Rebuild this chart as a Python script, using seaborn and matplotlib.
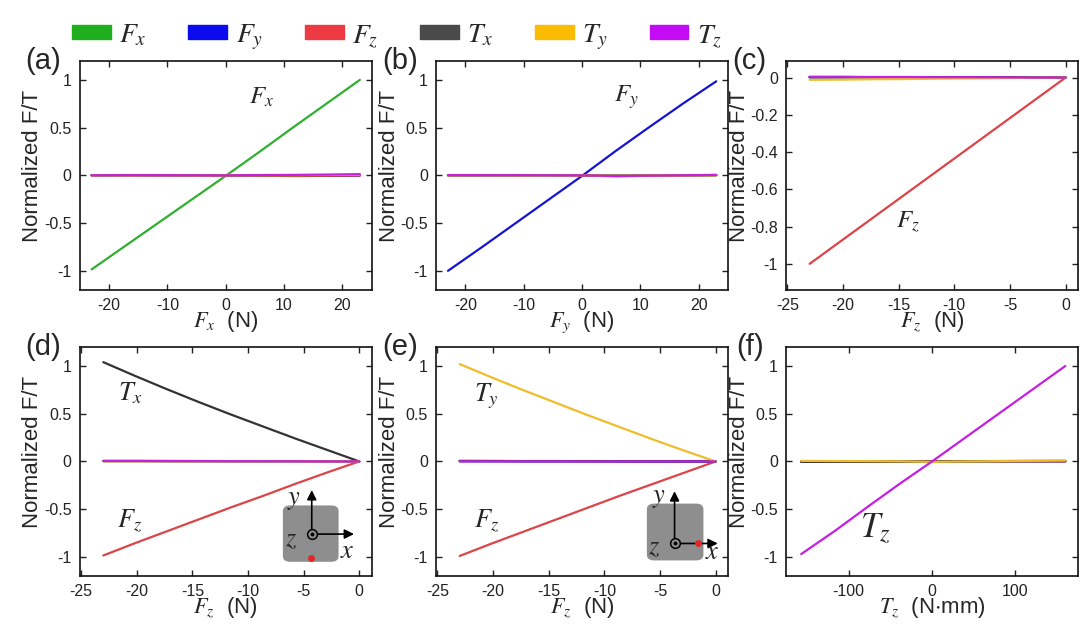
import matplotlib.pyplot as plt
import matplotlib.patches as mpatches
from matplotlib.patches import FancyBboxPatch
from matplotlib.ticker import FuncFormatter
import pandas as pd
import seaborn as sns

sns.set_style('ticks')
plt.rcParams['font.family'] = ['Liberation Sans', 'DejaVu Sans']
plt.rcParams['mathtext.fontset'] = 'stix'
plt.rcParams['axes.unicode_minus'] = False

# composantes et couleurs
composantes = ['Fx', 'Fy', 'Fz', 'Tx', 'Ty', 'Tz']
noms = [r'$F_x$', r'$F_y$', r'$F_z$', r'$T_x$', r'$T_y$', r'$T_z$']
couleurs_legende = ['#1eae1e', '#0b0bee', '#ee3a42', '#4a4a4a', '#fbbb00', '#c30cf5']
couleurs_courbes = ['#2fb02f', '#1515d0', '#dc4448', '#333333', '#f0bd2a', '#c61ee2']

# (a) charge Fx
x_a = [-23, -17.25, -11.5, -5.75, 0, 5.75, 11.5, 17.25, 23]
a_Fx = [-0.985, -0.74, -0.495, -0.25, -0.005, 0.245, 0.5, 0.75, 1.0]
a_Fy = [0.002, 0.002, 0.001, 0.0, 0.0, -0.002, -0.003, -0.002, -0.001]
a_Fz = [0.0, 0.0, -0.001, -0.002, 0.0, -0.004, -0.007, -0.005, -0.002]
a_Tx = [0.0, 0.001, 0.002, 0.001, 0.0, 0.0, 0.001, 0.002, 0.003]
a_Ty = [0.0, 0.0, 0.001, 0.0, 0.0, 0.001, 0.002, 0.004, 0.006]
a_Tz = [0.001, 0.002, 0.002, 0.001, 0.0, 0.003, 0.005, 0.008, 0.012]

# (b) charge Fy
x_b = [-23, -17.25, -11.5, -5.75, 0, 5.75, 11.5, 17.25, 23]
b_Fx = [0.001, 0.001, 0.0, 0.0, 0.0, -0.003, 0.0, 0.001, 0.002]
b_Fy = [-1.0, -0.755, -0.505, -0.255, -0.005, 0.255, 0.505, 0.75, 0.985]
b_Fz = [0.002, 0.002, 0.001, 0.001, 0.0, -0.01, -0.004, -0.002, 0.004]
b_Tx = [0.0, 0.0, 0.001, 0.001, 0.0, -0.002, 0.0, 0.001, 0.001]
b_Ty = [0.001, 0.001, 0.0, 0.0, 0.0, -0.004, -0.002, 0.0, 0.002]
b_Tz = [0.003, 0.002, 0.002, 0.001, 0.0, -0.006, -0.003, 0.001, 0.005]

# (c) charge Fz au centre
x_c = [-23, -20.125, -17.25, -14.375, -11.5, -8.625, -5.75, -2.875, 0]
c_Fx = [0.002, 0.002, 0.002, 0.001, 0.001, 0.001, 0.0, 0.0, 0.0]
c_Fy = [0.001, 0.001, 0.001, 0.001, 0.0, 0.0, 0.0, 0.0, 0.0]
c_Fz = [-1.0, -0.875, -0.75, -0.625, -0.5, -0.375, -0.25, -0.125, 0.0]
c_Tx = [0.003, 0.003, 0.002, 0.002, 0.002, 0.001, 0.001, 0.0, 0.0]
c_Ty = [-0.012, -0.011, -0.009, -0.008, -0.006, -0.005, -0.003, -0.001, 0.0]
c_Tz = [0.004, 0.004, 0.003, 0.003, 0.002, 0.002, 0.001, 0.0, 0.0]

# (d) charge Fz excentree en y
x_d = [-23, -20.125, -17.25, -14.375, -11.5, -8.625, -5.75, -2.875, 0]
d_Fx = [0.002, 0.002, 0.001, 0.001, 0.001, 0.0, 0.0, 0.0, 0.0]
d_Fy = [0.006, 0.006, 0.005, 0.004, 0.003, 0.002, 0.002, 0.001, 0.0]
d_Fz = [-0.985, -0.855, -0.73, -0.605, -0.48, -0.36, -0.235, -0.115, 0.0]
d_Tx = [1.04, 0.895, 0.755, 0.62, 0.49, 0.365, 0.24, 0.12, 0.0]
d_Ty = [0.002, 0.002, 0.001, 0.001, 0.001, 0.0, 0.0, 0.0, 0.0]
d_Tz = [0.004, 0.004, 0.003, 0.003, 0.002, 0.002, 0.001, 0.0, 0.0]

# (e) charge Fz excentree en x
x_e = [-23, -20.125, -17.25, -14.375, -11.5, -8.625, -5.75, -2.875, 0]
e_Fx = [0.004, 0.004, 0.003, 0.003, 0.002, 0.002, 0.001, 0.0, 0.0]
e_Fy = [0.002, 0.002, 0.001, 0.001, 0.001, 0.0, 0.0, 0.0, 0.0]
e_Fz = [-0.99, -0.86, -0.735, -0.61, -0.485, -0.36, -0.24, -0.12, 0.0]
e_Tx = [0.006, 0.005, 0.004, 0.004, 0.003, 0.002, 0.001, 0.0, 0.0]
e_Ty = [1.02, 0.88, 0.745, 0.615, 0.485, 0.36, 0.235, 0.115, 0.0]
e_Tz = [0.001, 0.001, 0.001, 0.001, 0.0, 0.0, 0.0, 0.0, 0.0]

# (f) couple Tz
x_f = [-157, -117, -78, -39, 0, 40, 80, 120, 160]
f_Fx = [0.002, 0.001, 0.001, 0.0, 0.0, 0.0, 0.001, 0.001, 0.002]
f_Fy = [-0.002, -0.001, -0.001, 0.0, 0.0, 0.0, 0.001, 0.001, 0.001]
f_Fz = [0.0, 0.0, 0.0, 0.0, 0.0, 0.001, 0.001, 0.001, 0.001]
f_Tx = [-0.004, -0.003, -0.002, -0.001, 0.0, 0.002, 0.004, 0.005, 0.006]
f_Ty = [0.006, 0.004, 0.003, 0.001, -0.004, 0.0, 0.003, 0.006, 0.009]
f_Tz = [-0.97, -0.73, -0.48, -0.235, 0.0, 0.25, 0.5, 0.75, 1.0]

panneaux = [
    ('(a)', x_a, [a_Fx, a_Fy, a_Fz, a_Tx, a_Ty, a_Tz], r'$F_x$  (N)'),
    ('(b)', x_b, [b_Fx, b_Fy, b_Fz, b_Tx, b_Ty, b_Tz], r'$F_y$  (N)'),
    ('(c)', x_c, [c_Fx, c_Fy, c_Fz, c_Tx, c_Ty, c_Tz], r'$F_z$  (N)'),
    ('(d)', x_d, [d_Fx, d_Fy, d_Fz, d_Tx, d_Ty, d_Tz], r'$F_z$  (N)'),
    ('(e)', x_e, [e_Fx, e_Fy, e_Fz, e_Tx, e_Ty, e_Tz], r'$F_z$  (N)'),
    ('(f)', x_f, [f_Fx, f_Fy, f_Fz, f_Tx, f_Ty, f_Tz], r'$T_z$  (N$\cdot$mm)'),
]

fig = plt.figure(figsize=(10.8, 6.4), dpi=100)
gauches = [0.074, 0.404, 0.728]
bas = [0.547, 0.100]
largeur, hauteur = 0.270, 0.358

axes = []
for i, (lettre, xs, series, xlabel) in enumerate(panneaux):
    ax = fig.add_axes([gauches[i % 3], bas[i // 3], largeur, hauteur])
    axes.append(ax)
    lignes = []
    for comp, vals in zip(composantes, series):
        for xv, yv in zip(xs, vals):
            lignes.append({'x': xv, 'valeur': yv, 'composante': comp})
    df = pd.DataFrame(lignes)
    sns.lineplot(data=df, x='x', y='valeur', hue='composante', hue_order=composantes,
                 palette=couleurs_courbes, estimator=None, sort=False, legend=False,
                 linewidth=1.6, ax=ax)
    ax.set_xlabel(xlabel, fontsize=16)
    ax.set_ylabel('Normalized F/T', fontsize=16)
    ax.xaxis.set_label_coords(0.5, -0.085)
    ax.yaxis.set_label_coords(-0.125, 0.54)
    ax.tick_params(direction='in', top=True, right=True, length=4, width=1,
                   labelsize=11.5, pad=6, colors='#222222')
    ax.yaxis.set_major_formatter(FuncFormatter(lambda v, p: '%g' % round(v, 2)))
    ax.xaxis.set_major_formatter(FuncFormatter(lambda v, p: '%g' % round(v, 2)))
    for s in ax.spines.values():
        s.set_linewidth(1.2)
        s.set_color('#111111')
    ax.text(-0.125, 1.0, lettre, transform=ax.transAxes, fontsize=21,
            ha='center', va='center')

# limites et graduations
for ax in axes[:2]:
    ax.set_xlim(-25, 25)
    ax.set_xticks([-20, -10, 0, 10, 20])
for ax in axes[2:5]:
    ax.set_xlim(-25.1, 1.1)
    ax.set_xticks([-25, -20, -15, -10, -5, 0])
axes[5].set_xlim(-175, 175)
axes[5].set_xticks([-100, 0, 100])
for k in [0, 1, 3, 4, 5]:
    axes[k].set_ylim(-1.2, 1.2)
    axes[k].set_yticks([-1, -0.5, 0, 0.5, 1])
axes[2].set_ylim(-1.14, 0.09)
axes[2].set_yticks([-1, -0.8, -0.6, -0.4, -0.2, 0])

# etiquettes des courbes
axes[0].text(6.2, 0.82, r'$F_x$', fontsize=18, ha='center', va='center')
axes[1].text(7.6, 0.82, r'$F_y$', fontsize=18, ha='center', va='center')
axes[2].text(-14.2, -0.78, r'$F_z$', fontsize=18, ha='center', va='center')
axes[3].text(-20.6, 0.71, r'$T_x$', fontsize=19, ha='center', va='center')
axes[3].text(-20.6, -0.62, r'$F_z$', fontsize=19, ha='center', va='center')
axes[4].text(-20.6, 0.68, r'$T_y$', fontsize=19, ha='center', va='center')
axes[4].text(-20.6, -0.62, r'$F_z$', fontsize=19, ha='center', va='center')
axes[5].text(-68, -0.71, r'$T_z$', fontsize=25, ha='center', va='center')


# petit schema du capteur avec le point de charge
def schema(ax, carre, origine, fin_y, fin_x, point, pos_y, pos_z, pos_x):
    x0, y0, x1, y1 = carre
    ax.add_patch(FancyBboxPatch((x0, y0), x1 - x0, y1 - y0,
                                boxstyle='round,pad=0,rounding_size=0.025',
                                transform=ax.transAxes, facecolor='#8e8e8e',
                                edgecolor='none', zorder=5))
    ox, oy = origine
    ax.annotate('', xy=(ox, fin_y), xytext=(ox, oy), xycoords='axes fraction',
                arrowprops=dict(arrowstyle='-|>', color='k', lw=1.2, mutation_scale=14,
                                shrinkA=0, shrinkB=0), zorder=6)
    ax.annotate('', xy=(fin_x, oy), xytext=(ox, oy), xycoords='axes fraction',
                arrowprops=dict(arrowstyle='-|>', color='k', lw=1.2, mutation_scale=14,
                                shrinkA=0, shrinkB=0), zorder=6)
    ax.plot(ox, oy, marker='o', mfc='#8e8e8e', mec='k', mew=1.1, ms=7,
            transform=ax.transAxes, zorder=7)
    ax.plot(ox, oy, marker='o', color='k', ms=1.8, transform=ax.transAxes, zorder=8)
    ax.plot(point[0], point[1], marker='o', color='#e02828', ms=4,
            transform=ax.transAxes, zorder=8)
    for (px, py), t in zip([pos_y, pos_z, pos_x], ['$y$', '$z$', '$x$']):
        ax.text(px, py, t, transform=ax.transAxes, fontsize=19,
                ha='center', va='center', zorder=8)


schema(axes[3], (0.696, 0.062, 0.887, 0.308), (0.795, 0.183), 0.375, 0.94,
       (0.792, 0.079), (0.733, 0.33), (0.723, 0.16), (0.917, 0.11))
schema(axes[4], (0.722, 0.068, 0.916, 0.316), (0.817, 0.142), 0.37, 0.965,
       (0.899, 0.146), (0.764, 0.34), (0.747, 0.125), (0.948, 0.105))

# legende commune en haut
poignees = [mpatches.Patch(color=c, label=n) for c, n in zip(couleurs_legende, noms)]
fig.legend(handles=poignees, loc='upper left', bbox_to_anchor=(0.046, 1.0), ncol=6,
           frameon=False, fontsize=20, handlelength=1.4, handleheight=0.4,
           handletextpad=0.3, columnspacing=1.5, borderpad=0.3)

fig.savefig('out.png', dpi=100)
